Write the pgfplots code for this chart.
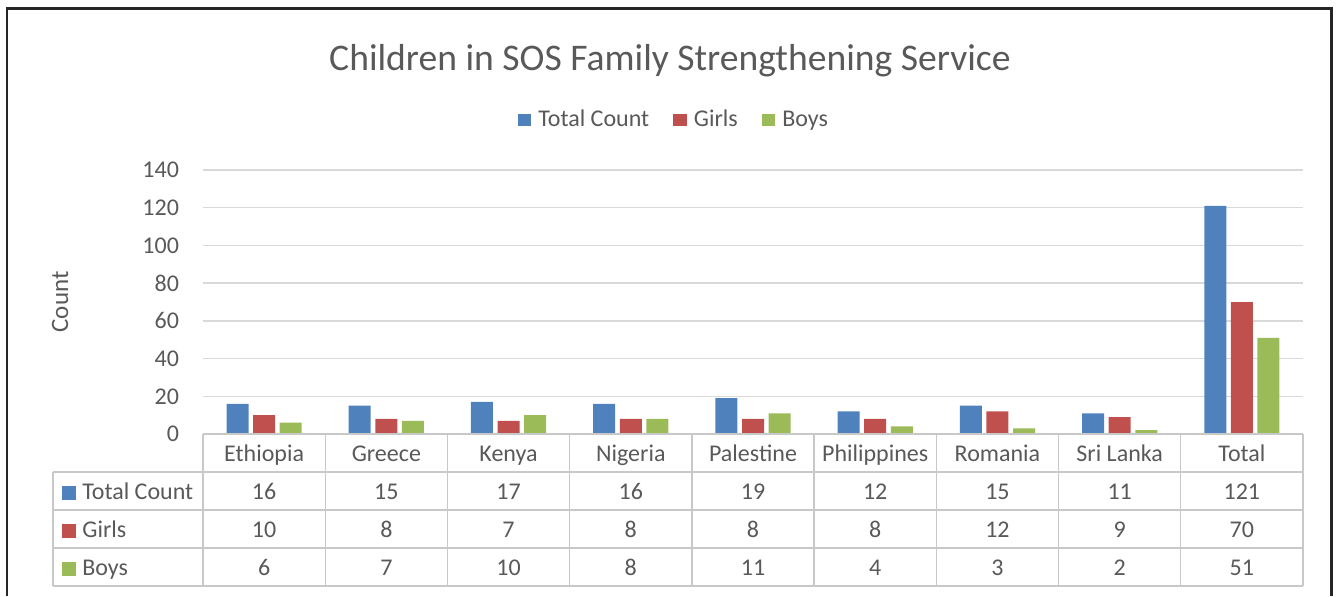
\documentclass[border=0pt]{standalone}
\usepackage{pgfplots}
\pgfplotsset{compat=1.18}
\usepackage{pgfplotstable}
\usepackage{fontspec}
\setmainfont{Carlito}

\definecolor{cblue}{HTML}{4F81BD}
\definecolor{cred}{HTML}{C0504D}
\definecolor{cgreen}{HTML}{9BBB59}
\definecolor{txt}{HTML}{595959}
\definecolor{gridc}{HTML}{D9D9D9}
\definecolor{tabc}{HTML}{C8C8C8}

\pgfplotstableread[col sep=comma, row sep=\\]{
idx,name,total,girls,boys\\
0,Ethiopia,16,10,6\\
1,Greece,15,8,7\\
2,Kenya,17,7,10\\
3,Nigeria,16,8,8\\
4,Palestine,19,8,11\\
5,Philippines,12,8,4\\
6,Romania,15,12,3\\
7,Sri Lanka,11,9,2\\
8,Total,121,70,51\\
}\datatable

\begin{document}
\begin{tikzpicture}
    \path[use as bounding box] (0,0) rectangle (668pt,-298pt);
    % outer frame (bottom edge is cut off)
    \draw[line width=1.2pt, black!85] (3.5pt,-298pt) -- (3.5pt,-4.2pt)
        -- (665.8pt,-4.2pt) -- (665.8pt,-298pt);

    \begin{axis}[
        scale only axis,
        width            = 550pt,
        height           = 132pt,
        at               = {(101.5pt,-217pt)},
        anchor           = south west,
        xmin = -0.5, xmax = 8.5,
        ymin = 0,    ymax = 140,
        ytick            = {0,20,...,140},
        xtick            = \empty,
        ymajorgrids,
        grid style       = {gridc, line width=0.7pt},
        axis line style  = {draw=none},
        major tick length = 0pt,
        /pgf/number format/assume math mode=true,
        yticklabel style = {font=\fontsize{12}{14}\selectfont, text=txt, xshift=-8.5pt},
        ylabel           = {Count},
        every axis y label/.style = {at={(axis description cs:-0.13,0.5)},
            rotate=90, anchor=center, font=\fontsize{12.5}{14}\selectfont, text=txt},
        title            = {Children in SOS Family Strengthening Service},
        every axis title/.style = {at={(axis description cs:0.4245,1.413)},
            anchor=center, font=\fontsize{18.8}{22}\selectfont, text=txt},
        ybar             = 2.3pt,
        bar width        = 11pt,
        legend columns   = -1,
        legend image code/.code = {\fill[#1] (0pt,-2.8pt) rectangle (6.8pt,3.2pt);},
        legend style     = {at={(axis description cs:0.429,1.189)}, anchor=center,
            draw=none, font=\fontsize{12}{14}\selectfont, text=txt,
            /tikz/every even column/.append style={column sep=10pt},
            /tikz/every odd column/.append style={column sep=1.5pt},
            inner sep=0pt, nodes={inner sep=2pt}},
        clip = false]

        \addplot[fill=cblue,  draw=none] table[x=idx, y=total] {\datatable};
        \addplot[fill=cred,   draw=none] table[x=idx, y=girls] {\datatable};
        \addplot[fill=cgreen, draw=none] table[x=idx, y=boys]  {\datatable};
        \legend{Total Count, Girls, Boys}
    \end{axis}

    % data table under the chart
    \begin{scope}[tabc, line width=0.7pt]
        \draw (101.5pt,-217pt) -- (651.5pt,-217pt);
        \foreach \y in {-236,-255,-274,-293}
            \draw (26.5pt,\y pt) -- (651.5pt,\y pt);
        \draw (26.5pt,-236pt) -- (26.5pt,-293pt);
        \foreach \k in {0,...,9}
            \draw ({101.5pt+61.111pt*\k},-217pt) -- ({101.5pt+61.111pt*\k},-293pt);
    \end{scope}

    \begin{scope}[every node/.style={text=txt, font=\fontsize{12}{14}\selectfont,
            inner sep=0pt, anchor=base}]
        \foreach \i in {0,...,8} {
            \pgfmathsetmacro\cx{101.5+61.111*(\i+0.5)}
            \pgfplotstablegetelem{\i}{name}\of\datatable
            \node at (\cx pt,-230.5pt) {\pgfplotsretval};
            \pgfplotstablegetelem{\i}{total}\of\datatable
            \node at (\cx pt,-249.5pt) {\pgfplotsretval};
            \pgfplotstablegetelem{\i}{girls}\of\datatable
            \node at (\cx pt,-268.5pt) {\pgfplotsretval};
            \pgfplotstablegetelem{\i}{boys}\of\datatable
            \node at (\cx pt,-287.5pt) {\pgfplotsretval};
        }
        \fill[cblue]  (31pt,-249.8pt) rectangle (38pt,-242.8pt);
        \fill[cred]   (31pt,-268.8pt) rectangle (38pt,-261.8pt);
        \fill[cgreen] (31pt,-287.8pt) rectangle (38pt,-280.8pt);
        \node[anchor=base west] at (41pt,-249.5pt) {Total Count};
        \node[anchor=base west] at (41pt,-268.5pt) {Girls};
        \node[anchor=base west] at (41pt,-287.5pt) {Boys};
    \end{scope}
\end{tikzpicture}
\end{document}
